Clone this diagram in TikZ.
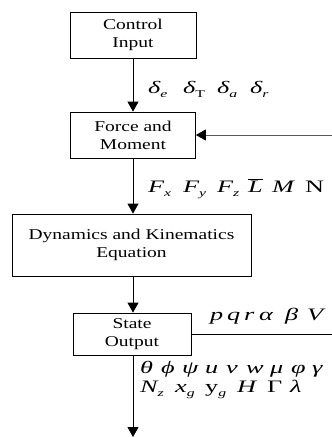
\documentclass[tikz,border=0pt]{standalone}
\usepackage{fontspec}
\setmainfont[FakeStretch=1.3]{Liberation Serif}
\newfontfamily\mlab[FakeStretch=1.5]{Liberation Serif}
\usetikzlibrary{arrows.meta}
\newcommand\lowsub[1]{\raisebox{-4pt}{\fontsize{10.5}{10.5}\selectfont #1}}
\newcommand\at[2]{\makebox[#1pt][l]{#2}}
\begin{document}
\begin{tikzpicture}[x=1pt,y=-1pt,
  box/.style={draw, line width=0.8pt, align=center, inner sep=0pt,
    font=\fontsize{15}{18}\selectfont},
  arr/.style={-{Triangle[width=11pt,length=10pt,color=black]}, line width=0.8pt},
  line/.style={line width=0.8pt},
  lab/.style={anchor=base west, inner sep=0pt,
    font=\mlab\fontsize{17.5}{19}\selectfont\itshape}]
\useasboundingbox (0,0) rectangle (332,437);
\node[box, minimum width=126pt, minimum height=46pt] (ctrl) at (133,35) {Control\\Input};
\node[box, minimum width=125pt, minimum height=46pt] (force) at (133,135) {Force and\\Moment};
\node[box, minimum width=239pt, minimum height=62pt] (dyn) at (131.5,245) {Dynamics and Kinematics\\Equation};
\node[box, minimum width=118pt, minimum height=42pt] (state) at (132,334) {State\\Output};
\coordinate (fbin) at (332,135);
\coordinate (fbout) at (332,334);
\coordinate (out) at (133,437);
\draw[arr] (ctrl.south) -- (force.north);
\draw[arr] (force.south) -- (force.south |- dyn.north);
\draw[arr] (force.south |- dyn.south) -- (force.south |- state.north);
\draw[arr] (force.south |- state.south) -- (out);
\draw[arr, draw=black!65] (fbin) -- (force.east);
\draw[line] (state.east) -- (fbout);
\node[lab] (dl) at (148,93) {\at{35}{δ\lowsub{e}}\at{34}{δ\lowsub{\upshape T}}\at{33}{δ\lowsub{a}}δ\lowsub{r}};
\node[lab] (fl) at (148,192) {\at{35}{F\lowsub{x}}\at{34}{F\lowsub{y}}\at{31}{F\lowsub{z}}\at{24}{$\overline{\mbox{\mlab\itshape L}}$}\at{33}{M}{\upshape N}};
\node[lab] (pl) at (210,320) {\at{17}{p}\at{17}{q}\at{15}{r}\at{26}{α}\at{22}{β}V};
\node[lab] (tl) at (140,373) {\at{21}{θ}\at{21}{ϕ}\at{23}{ψ}\at{21}{u}\at{20}{v}\at{24}{w}\at{21}{μ}\at{21}{φ}γ};
\node[lab] (nl) at (140,392) {\at{35}{N\lowsub{z}}\at{30}{x\lowsub{g}}\at{32}{{\upshape y}\lowsub{g}}\at{30}{H}\at{23}{\upshape Γ}λ};
\end{tikzpicture}
\end{document}
